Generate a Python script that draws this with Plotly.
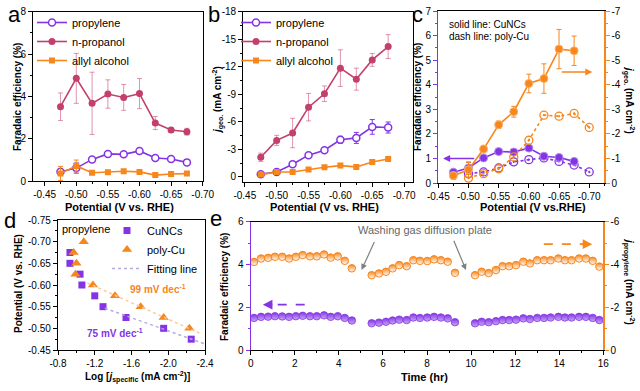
import numpy as np
import plotly.graph_objects as go

# ---------------- data ----------------
potential = [-0.475, -0.500, -0.525, -0.550, -0.575, -0.600, -0.625, -0.650, -0.675]

fe_propylene     = [0.44, 0.61, 1.02, 1.28, 1.26, 1.42, 1.09, 1.04, 0.88]
fe_propylene_err = [0.08, 0.24, 0.07, 0.06, 0.06, 0.08, 0.08, 0.06, 0.08]
fe_propanol      = [3.51, 4.85, 3.67, 4.11, 3.95, 4.13, 2.74, 2.41, 2.33]
fe_propanol_err  = [0.65, 1.18, 1.47, 0.67, 0.61, 0.71, 0.31, 0.11, 0.16]
fe_allyl         = [0.36, 0.71, 0.39, 0.41, 0.46, 0.43, 0.28, 0.33, 0.35]
fe_allyl_err     = [0.33, 0.28, 0.05, 0.05, 0.05, 0.05, 0.05, 0.05, 0.05]

j_propylene      = [-0.30, -0.54, -1.38, -2.37, -2.90, -4.05, -4.25, -5.45, -5.38]
j_propylene_err  = [0.15, 0.30, 0.15, 0.15, 0.22, 0.38, 0.60, 0.80, 0.60]
j_propanol       = [-2.14, -3.98, -4.78, -7.60, -9.06, -11.85, -10.65, -12.75, -14.20]
j_propanol_err   = [0.45, 0.55, 1.60, 1.50, 0.85, 2.00, 1.20, 0.70, 1.30]
j_allyl          = [-0.25, -0.54, -0.54, -0.80, -1.05, -1.23, -1.09, -1.63, -1.96]
j_allyl_err      = [0.10, 0.12, 0.08, 0.08, 0.08, 0.10, 0.25, 0.12, 0.10]

polycu_potential    = [-0.500, -0.525, -0.550, -0.575, -0.600, -0.625, -0.650, -0.675, -0.700]
polycu_fe_propylene = [0.38, 0.45, 0.61, 0.86, 0.95, 1.02, 0.88, 0.73, 0.45]
polycu_j_propylene  = [-0.20, -0.38, -0.58, -1.06, -1.74, -2.76, -2.72, -2.83, -2.26]

tafel_cuncs_logj      = [-0.93, -0.93, -1.04, -1.06, -1.20, -1.29, -1.54, -1.95, -2.25]
tafel_cuncs_potential = [-0.675, -0.650, -0.625, -0.600, -0.575, -0.550, -0.525, -0.500, -0.475]
tafel_polycu_logj      = [-1.08, -0.97, -1.00, -0.99, -1.18, -1.42, -1.70, -1.95, -2.23]
tafel_polycu_potential = [-0.700, -0.675, -0.650, -0.625, -0.600, -0.575, -0.550, -0.525, -0.500]
tafel_cuncs_slope_label  = "75 mV dec<sup>-1</sup>"
tafel_polycu_slope_label = "99 mV dec<sup>-1</sup>"

time_hr = [0.15, 0.47, 0.79, 1.10, 1.43, 1.74, 2.05, 2.36, 2.69, 3.00, 3.33, 3.63, 3.95, 4.27, 4.59,
           5.49, 5.82, 6.14, 6.44, 6.74, 7.08, 7.38, 7.68, 8.01, 8.32, 8.63, 8.94, 9.27,
           10.18, 10.48, 10.80, 11.13, 11.43, 11.73, 12.04, 12.37, 12.67, 13.00, 13.31, 13.61,
           13.96, 14.26, 14.56, 14.90, 15.21, 15.52, 15.82]
time_fe = [1.50, 1.55, 1.56, 1.58, 1.57, 1.55, 1.58, 1.60, 1.58, 1.58, 1.62, 1.55, 1.58, 1.50, 1.38,
           1.25, 1.28, 1.32, 1.38, 1.42, 1.40, 1.52, 1.50, 1.52, 1.55, 1.52, 1.48, 1.30,
           1.25, 1.32, 1.30, 1.35, 1.40, 1.40, 1.42, 1.48, 1.45, 1.50, 1.50, 1.52,
           1.55, 1.52, 1.52, 1.55, 1.55, 1.50, 1.40]
time_j = [-4.12, -4.28, -4.31, -4.36, -4.36, -4.28, -4.36, -4.44, -4.38, -4.38, -4.47, -4.32, -4.38, -4.17, -3.82,
          -3.50, -3.58, -3.66, -3.82, -3.97, -3.92, -4.20, -4.17, -4.16, -4.24, -4.20, -4.13, -3.61,
          -3.50, -3.66, -3.60, -3.74, -3.92, -3.92, -3.97, -4.13, -4.05, -4.20, -4.20, -4.20,
          -4.28, -4.20, -4.20, -4.28, -4.28, -4.17, -3.90]

# tick values
pot_ticks = [-0.45, -0.50, -0.55, -0.60, -0.65, -0.70]
fe_ticks_a = [0, 2, 4, 6, 8]
j_ticks_b = [0, -3, -6, -9, -12, -15, -18]
fe_ticks_c = [0, 1, 2, 3, 4, 5, 6, 7]
j_ticks_c = [0, -1, -2, -3, -4, -5, -6, -7]
logj_ticks_d = [-0.8, -1.2, -1.6, -2.0, -2.4]
pot_ticks_d = [-0.45, -0.50, -0.55, -0.60, -0.65, -0.70, -0.75]
time_ticks = [0, 2, 4, 6, 8, 10, 12, 14, 16]
fe_ticks_e = [0, 2, 4, 6]
j_ticks_e = [0, -2, -4, -6]

# ---------------- style ----------------
W, H = 640, 391
PURPLE = '#8434E4'
PINK = '#C4406C'
PINK_ERR = 'rgba(196,64,108,0.55)'
ORANGE = '#F7861C'
GRAY = '#808080'
FONT = 'Arial, Liberation Sans, sans-serif'


def dx(l, r):
    return [l / W, r / W]


def dy(t, b):
    return [1 - b / H, 1 - t / H]


def axis(domain, rng, tickvals, fmt, anchor, color='black', mirror=True, side=None,
         overlaying=None, minor=None, tick0=0):
    d = dict(domain=domain, range=rng, tickmode='array', tickvals=tickvals,
             ticktext=[fmt.format(v) for v in tickvals], anchor=anchor, showline=True,
             linecolor=color, linewidth=1.2, mirror=mirror, ticks='outside', ticklen=4,
             tickwidth=1, tickcolor=color, showgrid=False, zeroline=False, automargin=False,
             tickfont=dict(family=FONT, size=10, color='black'))
    if side:
        d['side'] = side
    if overlaying:
        d['overlaying'] = overlaying
    if minor:
        d['minor'] = dict(tickmode='linear', tick0=tick0, dtick=minor, ticklen=2,
                          tickcolor=color, showgrid=False)
    return d


fig = go.Figure()


def err(arr, color):
    return dict(type='data', array=arr, color=color, thickness=1, width=2.5)


# ---------- panel a ----------
fig.add_trace(go.Scatter(x=potential, y=fe_propylene, error_y=err(fe_propylene_err, PURPLE),
                         mode='lines+markers', name='propylene', legend='legend',
                         line=dict(color=PURPLE, width=1.6),
                         marker=dict(symbol='circle', size=7, color='white', line=dict(color=PURPLE, width=1.5)),
                         xaxis='x', yaxis='y'))
fig.add_trace(go.Scatter(x=potential, y=fe_propanol, error_y=err(fe_propanol_err, PINK_ERR),
                         mode='lines+markers', name='n-propanol', legend='legend',
                         line=dict(color=PINK, width=1.6),
                         marker=dict(symbol='circle', size=7, color=PINK),
                         xaxis='x', yaxis='y'))
fig.add_trace(go.Scatter(x=potential, y=fe_allyl, error_y=err(fe_allyl_err, ORANGE),
                         mode='lines+markers', name='allyl alcohol', legend='legend',
                         line=dict(color=ORANGE, width=1.6),
                         marker=dict(symbol='square', size=6, color=ORANGE),
                         xaxis='x', yaxis='y'))

# ---------- panel b ----------
fig.add_trace(go.Scatter(x=potential, y=j_propylene, error_y=err(j_propylene_err, PURPLE),
                         mode='lines+markers', name='propylene', legend='legend2',
                         line=dict(color=PURPLE, width=1.6),
                         marker=dict(symbol='circle', size=7, color='white', line=dict(color=PURPLE, width=1.5)),
                         xaxis='x2', yaxis='y2'))
fig.add_trace(go.Scatter(x=potential, y=j_propanol, error_y=err(j_propanol_err, PINK_ERR),
                         mode='lines+markers', name='n-propanol', legend='legend2',
                         line=dict(color=PINK, width=1.6),
                         marker=dict(symbol='circle', size=7, color=PINK),
                         xaxis='x2', yaxis='y2'))
fig.add_trace(go.Scatter(x=potential, y=j_allyl, error_y=err(j_allyl_err, ORANGE),
                         mode='lines+markers', name='allyl alcohol', legend='legend2',
                         line=dict(color=ORANGE, width=1.6),
                         marker=dict(symbol='square', size=6, color=ORANGE),
                         xaxis='x2', yaxis='y2'))

# ---------- panel c ----------
fig.add_trace(go.Scatter(x=polycu_potential, y=polycu_j_propylene, mode='lines+markers',
                         showlegend=False, line=dict(color=ORANGE, width=1.6, dash='dot'),
                         marker=dict(symbol='circle-open-dot', size=8, color=ORANGE, line=dict(width=1.3)),
                         xaxis='x3', yaxis='y4'))
fig.add_trace(go.Scatter(x=polycu_potential, y=polycu_fe_propylene, mode='lines+markers',
                         showlegend=False, line=dict(color=PURPLE, width=1.6, dash='dot'),
                         marker=dict(symbol='circle-open-dot', size=8, color=PURPLE, line=dict(width=1.3)),
                         xaxis='x3', yaxis='y3'))
fig.add_trace(go.Scatter(x=potential, y=j_propylene, error_y=err(j_propylene_err, ORANGE),
                         mode='lines+markers', showlegend=False,
                         line=dict(color=ORANGE, width=1.6),
                         marker=dict(symbol='circle', size=8, color=ORANGE,
                                     line=dict(color='#FBB46A', width=1)),
                         xaxis='x3', yaxis='y4'))
fig.add_trace(go.Scatter(x=potential, y=fe_propylene, error_y=err(fe_propylene_err, PURPLE),
                         mode='lines+markers', showlegend=False,
                         line=dict(color=PURPLE, width=1.6),
                         marker=dict(symbol='circle', size=8, color=PURPLE,
                                     line=dict(color='#B58AF0', width=1)),
                         xaxis='x3', yaxis='y3'))

# ---------- panel d ----------
D_XMIN, D_XMAX = -0.8, -2.4
cu_fit_idx = [i for i, p in enumerate(tafel_cuncs_potential) if p >= -0.55]
pc_fit_idx = [i for i, p in enumerate(tafel_polycu_potential) if p >= -0.60]
cu_x = np.array([tafel_cuncs_logj[i] for i in cu_fit_idx])
cu_y = np.array([tafel_cuncs_potential[i] for i in cu_fit_idx])
pc_x = np.array([tafel_polycu_logj[i] for i in pc_fit_idx])
pc_y = np.array([tafel_polycu_potential[i] for i in pc_fit_idx])
cu_p = np.polyfit(cu_x, cu_y, 1)
pc_p = np.polyfit(pc_x, pc_y, 1)
cu_fx = np.linspace(cu_x.max() - 0.02, D_XMAX, 20)
pc_fx = np.linspace(pc_x.max() + 0.06, D_XMAX + 0.06, 20)

fig.add_trace(go.Scatter(x=tafel_cuncs_logj, y=tafel_cuncs_potential, mode='markers', name='CuNCs',
                         legend='legend3', marker=dict(symbol='square', size=7, color=PURPLE),
                         xaxis='x4', yaxis='y5'))
fig.add_trace(go.Scatter(x=tafel_polycu_logj, y=tafel_polycu_potential, mode='markers', name='poly-Cu',
                         legend='legend3', marker=dict(symbol='triangle-up', size=9, color=ORANGE),
                         xaxis='x4', yaxis='y5'))
fig.add_trace(go.Scatter(x=cu_fx, y=np.polyval(cu_p, cu_fx), mode='lines', name='Fitting line',
                         legend='legend3', line=dict(color='#B4ACE0', width=1.5, dash='dot'),
                         xaxis='x4', yaxis='y5'))
fig.add_trace(go.Scatter(x=pc_fx, y=np.polyval(pc_p, pc_fx), mode='lines', showlegend=False,
                         line=dict(color='#F9CB98', width=1.5, dash='dot'),
                         xaxis='x4', yaxis='y5'))

# ---------- panel e ----------
fig.add_trace(go.Scatter(x=time_hr, y=time_fe, mode='markers', showlegend=False,
                         marker=dict(symbol='circle', size=7.5, color=PURPLE,
                                     gradient=dict(type='vertical', color='#C9A8F5'),
                                     line=dict(color=PURPLE, width=0.8)),
                         xaxis='x5', yaxis='y6'))
fig.add_trace(go.Scatter(x=time_hr, y=time_j, mode='markers', showlegend=False,
                         marker=dict(symbol='circle', size=7.5, color=ORANGE,
                                     gradient=dict(type='vertical', color='white'),
                                     line=dict(color=ORANGE, width=1)),
                         xaxis='x5', yaxis='y7'))

# ---------- layout ----------
A_X, A_Y = dx(33.3, 202.7), dy(11.7, 181)
B_X, B_Y = dx(243.3, 412.7), dy(11.7, 181.5)
C_X, C_Y = dx(438.3, 604.3), dy(11, 183)
D_X, D_Y = dx(58, 205), dy(220, 350)
E_X, E_Y = dx(250.7, 603.3), dy(221.7, 350)

layout = dict(
    template='none',
    width=W, height=H, margin=dict(l=0, r=0, t=0, b=0, autoexpand=False),
    paper_bgcolor='white', plot_bgcolor='white', hovermode=False,
    font=dict(family=FONT, size=11, color='black'),
    xaxis=axis(A_X, [-0.432, -0.70], pot_ticks, '{:.2f}', 'y', minor=0.025, tick0=-0.45),
    yaxis=axis(A_Y, [0, 8], fe_ticks_a, '{:g}', 'x', minor=1),
    xaxis2=axis(B_X, [-0.4476, -0.7135], pot_ticks, '{:.2f}', 'y2', minor=0.025, tick0=-0.45),
    yaxis2=axis(B_Y, [0.5, -18], j_ticks_b, '{:g}', 'x2', minor=1.5),
    xaxis3=axis(C_X, [-0.45, -0.725], pot_ticks, '{:.2f}', 'y3', minor=0.025, tick0=-0.45),
    yaxis3=axis(C_Y, [0, 7], fe_ticks_c, '{:g}', 'x3', color=PURPLE, mirror=False, minor=0.5),
    yaxis4=axis(C_Y, [0, -7], j_ticks_c, '{:g}', 'x3', color=ORANGE, mirror=False, side='right',
                overlaying='y3', minor=0.5),
    xaxis4=axis(D_X, [D_XMIN, D_XMAX], logj_ticks_d, '{:.1f}', 'y5', minor=0.2, tick0=-0.8),
    yaxis5=axis(D_Y, [-0.45, -0.75], pot_ticks_d, '{:.2f}', 'x4', minor=0.025, tick0=-0.45),
    xaxis5=axis(E_X, [0, 16], time_ticks, '{:g}', 'y6', minor=1),
    yaxis6=axis(E_Y, [0, 6], fe_ticks_e, '{:g}', 'x5', color=PURPLE, mirror=False, minor=1),
    yaxis7=axis(E_Y, [0, -6], j_ticks_e, '{:g}', 'x5', color=ORANGE, mirror=False, side='right',
                overlaying='y6', minor=1),
    legend=dict(x=32 / W, y=1 - 8 / H, xanchor='left', yanchor='top', bgcolor='rgba(0,0,0,0)',
                font=dict(size=11), itemwidth=30),
    legend2=dict(x=236 / W, y=1 - 8 / H, xanchor='left', yanchor='top', bgcolor='rgba(0,0,0,0)',
                 font=dict(size=11), itemwidth=30),
    legend3=dict(x=107 / W, y=1 - 216 / H, xanchor='left', yanchor='top', bgcolor='rgba(0,0,0,0)',
                 font=dict(size=11), itemwidth=30),
)
fig.update_layout(**layout)

ann = []


def text(xp, yp, s, size=11, color='black', angle=0, xanchor='center', yanchor='middle'):
    ann.append(dict(x=xp / W, y=1 - yp / H, xref='paper', yref='paper', text=s, showarrow=False,
                    textangle=angle, xanchor=xanchor, yanchor=yanchor,
                    font=dict(family=FONT, size=size, color=color)))


# panel letters
for letter, xp, yp in [('a', 14, 0), ('b', 214, 0), ('c', 417, 0), ('d', 10, 206), ('e', 216, 204)]:
    text(xp, yp, letter, size=22, yanchor='top')

# axis titles
POT = '<b>Potential (V vs. RHE)</b>'
text(119, 207, POT)
text(324, 207, POT)
text(533, 207, '<b>Potential (V vs.RHE)</b>')
text(18, 97, '<b>Faradaic efficiency (%)</b>', size=10, angle=-90)
text(218, 100, '<b><i>j</i><sub>geo.</sub> (mA cm<sup>-2</sup>)</b>', size=10, angle=-90)
text(418, 97, '<b>Faradaic efficiency (%)</b>', size=10, angle=-90)
text(629, 100, '<b><i>j</i><sub>geo.</sub> (mA cm<sup>-2</sup>)</b>', size=10, angle=90)
text(18, 284, '<b>Potential (V vs. RHE)</b>', size=10, angle=-90)
text(137, 377, '<b>Log [<i>j</i><sub>specific</sub> (mA cm<sup>-2</sup>)]</b>', size=10)
text(224, 287, '<b>Faradaic efficiency (%)</b>', size=10, angle=-90)
text(629, 281, '<b><i>j</i><sub>propylene</sub> (mA cm<sup>-2</sup>)</b>', size=10, angle=90)
text(424, 377, '<b>Time (hr)</b>', size=11)

# panel c notes
text(447, 25, 'solid line: CuNCs', size=10, xanchor='left')
text(447, 37, 'dash line: poly-Cu', size=10, xanchor='left')
# panel d notes
text(60, 229, 'propylene', size=11, xanchor='left')
text(158, 289, '<b>' + tafel_polycu_slope_label + '</b>', size=10, color=ORANGE)
text(115, 333, '<b>' + tafel_cuncs_slope_label + '</b>', size=10, color=PURPLE)
# panel e note
text(425, 230, 'Washing gas diffusion plate', size=11, color='#666666')


# arrows (data coordinates)
def arrow(xa, ya, x, y, ax, ay, color, width=1.2, head=2, size=1.0):
    ann.append(dict(xref=xa, yref=ya, axref=xa, ayref=ya, x=x, y=y, ax=ax, ay=ay, text='',
                    showarrow=True, arrowhead=head, arrowsize=size, arrowwidth=width, arrowcolor=color))


arrow('x3', 'y3', -0.458, 1.0, -0.512, 1.0, PURPLE, width=1.4)
arrow('x3', 'y4', -0.705, -4.52, -0.652, -4.52, ORANGE, width=1.4)
arrow('x5', 'y6', 5.03, 3.74, 5.64, 5.12, GRAY, width=1.2)
arrow('x5', 'y6', 9.77, 3.74, 9.19, 5.18, GRAY, width=1.2)
arrow('x5', 'y7', 15.5, -4.95, 15.0, -4.95, ORANGE, width=1.6, head=2, size=1.2)
arrow('x5', 'y6', 0.55, 2.12, 1.05, 2.12, PURPLE, width=1.6, head=2, size=1.2)

fig.update_layout(annotations=ann)
fig.add_shape(type='line', xref='x5', yref='y7', x0=13.3, x1=15.1, y0=-4.95, y1=-4.95,
              line=dict(color=ORANGE, width=1.6, dash='dash'))
fig.add_shape(type='line', xref='x5', yref='y6', x0=2.45, x1=0.95, y0=2.12, y1=2.12,
              line=dict(color=PURPLE, width=1.6, dash='dash'))

fig.write_html('out.html', config={'displayModeBar': False, 'staticPlot': True},
               post_script="document.body.style.margin='0px';document.body.style.overflow='hidden';")
